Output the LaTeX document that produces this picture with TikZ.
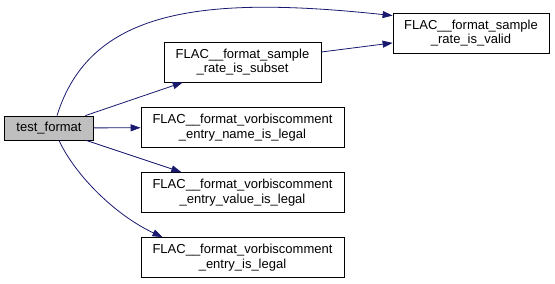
\documentclass[tikz,border=0pt]{standalone}
\usepackage{fontspec}
\setmainfont{Liberation Sans}
\usetikzlibrary{arrows.meta}
\definecolor{cgNavy}{HTML}{191970}
\definecolor{cgGray}{HTML}{BFBFBF}
\definecolor{cgInk}{HTML}{000000}

\begin{document}
\begin{tikzpicture}[x=1pt, y=-1pt, >={Triangle[length=10pt, width=7pt]},
    fn/.style={draw=cgInk, line width=0.8pt, fill=white, align=center, inner sep=0pt,
      minimum height=40pt, font=\fontsize{13}{14.5}\selectfont},
    call/.style={->, cgNavy, line width=0.8pt}]
    \useasboundingbox (0,0) rectangle (555,284);
    % caller
    \node[fn, fill=cgGray, minimum width=89pt, minimum height=24pt] (test) at (49,128) {test\_format};
    % callees
    \node[fn, minimum width=157pt] (subset) at (242.5,62) {FLAC\_\_format\_sample\\\_rate\_is\_subset};
    \node[fn, minimum width=156pt] (valid) at (471,33) {FLAC\_\_format\_sample\\\_rate\_is\_valid};
    \node[fn, minimum width=203pt] (name) at (242.5,127.5) {FLAC\_\_format\_vorbiscomment\\\_entry\_name\_is\_legal};
    \node[fn, minimum width=203pt] (value) at (242.5,192.5) {FLAC\_\_format\_vorbiscomment\\\_entry\_value\_is\_legal};
    \node[fn, minimum width=203pt] (legal) at (242.5,257.5) {FLAC\_\_format\_vorbiscomment\\\_entry\_is\_legal};
    % calls
    \draw[call] ([xshift=8pt]test.north) .. controls (90,10) and (200,-5) .. ([yshift=-3pt]valid.north west);
    \draw[call] (test) -- (subset);
    \draw[call] (subset) -- (valid);
    \draw[call] (test) -- (name);
    \draw[call] (test) -- (value);
    \draw[call] ([xshift=10pt]test.south) .. controls (75,175) and (115,215) .. ([xshift=-80pt]legal.north);
  \end{tikzpicture}
\end{document}
